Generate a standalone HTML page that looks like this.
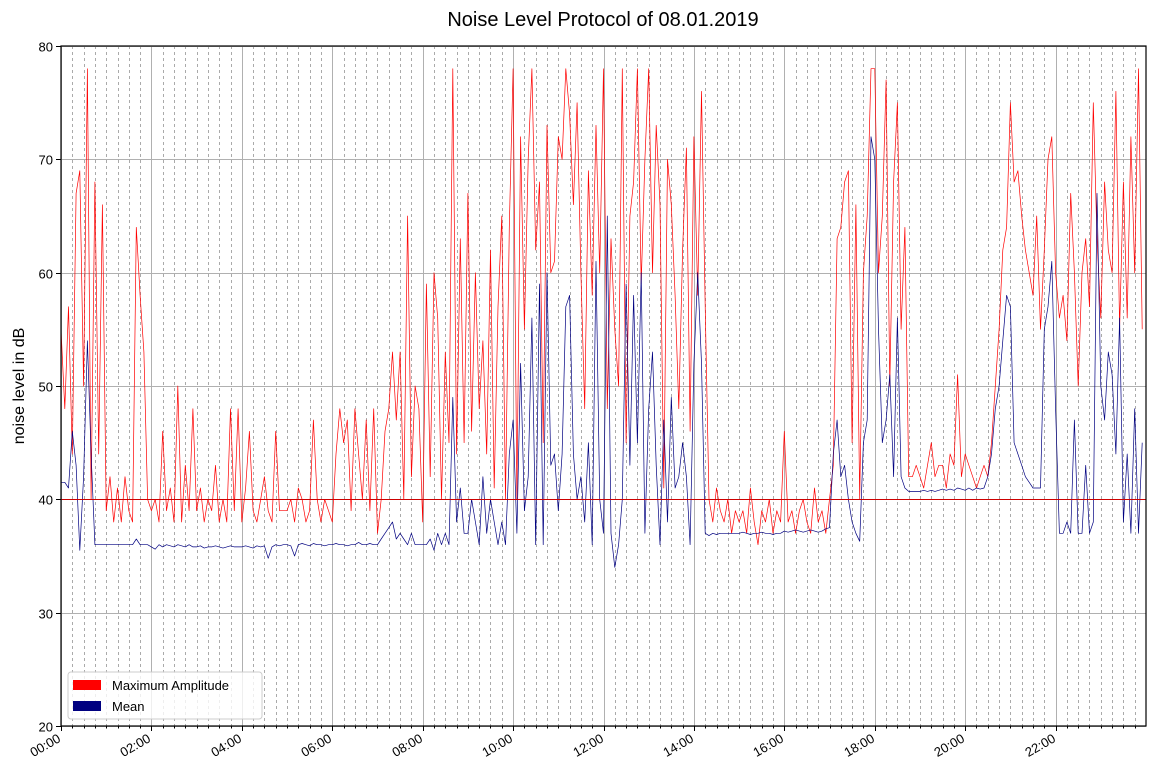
<!DOCTYPE html>
<html><head><meta charset="utf-8"><style>
body{margin:0;background:#fff;font-family:"Liberation Sans",sans-serif;}
svg{display:block}
</style></head><body>
<svg id="chart" width="1159" height="778" xmlns="http://www.w3.org/2000/svg">
<text x="603" y="26" font-size="20" text-anchor="middle" font-family="Liberation Sans, sans-serif">Noise Level Protocol of 08.01.2019</text>
<text transform="translate(24,386) rotate(-90)" font-size="16" text-anchor="middle" font-family="Liberation Sans, sans-serif">noise level in dB</text>
<g id="grid"></g><g id="series"></g><g id="axes"></g>
<g>
<rect x="68" y="672" width="194" height="47" fill="#fff" fill-opacity="0.8" stroke="#ccc" rx="3"/>
<rect x="73" y="680" width="28" height="10" fill="#ff0000"/>
<text x="112" y="690" font-size="13">Maximum Amplitude</text>
<rect x="73" y="701" width="28" height="10" fill="#000080"/>
<text x="112" y="711" font-size="13">Mean</text>
</g>
</svg>
<script>
const yTicks=[20,30,40,50,60,70,80];
const xTickLabels=["00:00","02:00","04:00","06:00","08:00","10:00","12:00","14:00","16:00","18:00","20:00","22:00"];
const threshold=[40];
const maxAmp=[
55,48,57,44,67,69,50,78,40,68,44,66,
39,42,38,41,38,42,39,38,64,58,53,40,
39,40,38,46,39,41,38,50,38,43,39,48,
39,41,38,40,39,43,38,40,38,48,39,48,
38,41,46,39,38,40,42,39,38,46,39,39,
39,40,38,41,40,38,39,47,40,38,40,39,
38,44,48,45,47,39,48,44,40,47,39,48,
37,40,46,48,53,47,53,40,65,42,50,48,
38,59,42,60,56,40,53,45,78,44,63,45,
67,46,60,48,54,44,62,41,57,65,40,64,
78,40,72,55,70,78,62,68,45,73,60,61,
72,70,78,74,66,75,60,48,69,58,73,60,
78,48,63,55,50,78,45,65,68,78,59,70,
78,60,73,66,41,70,66,58,48,62,71,46,
72,58,76,57,40,38,41,39,38,40,37,39,
38,39,37,41,38,36,39,38,40,37,39,38,
46,38,39,37,39,40,38,37,41,38,39,37,
40,43,63,64,68,69,45,66,40,60,65,78,
78,60,65,77,50,68,75,55,64,42,42,43,
42,41,43,45,42,43,43,41,44,43,51,42,
44,43,42,41,42,43,42,45,50,55,62,64,
75,68,69,65,62,60,58,65,55,62,70,72,
60,56,58,54,67,60,50,60,63,57,75,63,
56,68,62,60,76,55,68,56,72,60,78,55];
const meanLvl=[
41.5,41.5,41,46,43,35.5,42,54,44,36,36,36,
36,36,36,36,36,36,36,36,36.5,36,36,36,
35.8,35.6,36,35.8,36,35.9,35.8,36,35.9,35.8,36,35.8,
35.8,35.9,35.7,35.8,35.8,35.9,35.8,35.7,35.8,35.9,35.8,35.8,
35.8,35.9,35.8,35.7,35.9,35.8,35.9,34.8,35.8,36,35.9,36,
36,35.9,35,36,36.1,36,35.9,36.1,36,36,35.9,36,
36,36.1,36,36,35.9,36,36,36.2,36,36,36.1,36,
36,36.5,37,37.5,38,36.5,37,36.5,36,37,36,36,
36,36,36.5,35.5,37,36,37,36,49,38,41,37,
37,40,38,36,42,37,40,38,36,38,36,44,
47,37,52,39,42,56,36,59,36,60,43,44,
39,44,57,58,44,40,42,38,45,36,61,40,
37,65,37,34,36,40,59,43,58,45,60,37,
48,53,43,36,47,38,49,41,42,45,42,36,
52,60,52,37,36.8,37,36.9,37,37,37,37,37,
37,37.1,37,36.9,37,37,37.1,37,37,36.9,37,37,
37.2,37.1,37.2,37.3,37.2,37.1,37.2,37.3,37.2,37.1,37.2,37.4,
37.5,44,47,42,43,40,38,37,36.3,45,47,72,
70,55,45,47,51,42,56,42,41,40.7,40.7,40.7,
40.7,40.8,40.7,40.8,40.7,40.8,40.9,40.8,40.9,40.8,41,40.9,
40.8,41,40.8,41,40.9,41,42,44,48,50,54,58,
57,45,44,43,42,41.5,41,41,41,55,57,61,
48,37,37,38,37,47,37,37,43,37,38,67,
50,47,53,51,44,56,38,44,37,48,37,45];
const X0=61,X1=1146,Y0=726,Y1=46,NS="http://www.w3.org/2000/svg";
const xs=h=>X0+h/24*(X1-X0);
const ys=v=>Y0-(v-20)/60*(Y0-Y1);
const snap=v=>Math.round(v)+0.5;
function mk(tag,attrs,parent){const e=document.createElementNS(NS,tag);for(const k in attrs)e.setAttribute(k,attrs[k]);parent.appendChild(e);return e;}
const grid=document.getElementById('grid'),axes=document.getElementById('axes'),ser=document.getElementById('series');
for(let q=1;q<96;q++){if(q%8===0)continue;const x=snap(xs(q/4));
const l=mk('line',{x1:x,x2:x,y1:Y1,y2:Y0,stroke:'#aaa','stroke-width':1,'stroke-dasharray':'3,3'},grid);


mk('line',{x1:x,x2:x,y1:Y0,y2:Y0+2.5,stroke:'#000'},axes);}
xTickLabels.forEach((t,i)=>{const x=snap(xs(i*2));
const l=mk('line',{x1:x,x2:x,y1:Y1,y2:Y0,stroke:'#b0b0b0','stroke-width':1},grid);


mk('line',{x1:x,x2:x,y1:Y0,y2:Y0+5,stroke:'#000'},axes);
const tx=mk('text',{x:x,y:Y0+15,'font-size':13,'text-anchor':'end',transform:`rotate(-30 ${x} ${Y0+15})`},axes);
tx.textContent=t;

});
yTicks.forEach(v=>{const y=snap(ys(v));
const l=mk('line',{x1:X0,x2:X1,y1:y,y2:y,stroke:'#b0b0b0'},grid);


mk('line',{x1:X0-5,x2:X0,y1:y,y2:y,stroke:'#000'},axes);
const tx=mk('text',{x:X0-8,y:y+5,'font-size':13,'text-anchor':'end'},axes);
tx.textContent=v;

});
function line(arr,color,name){const n=arr.length;const pts=arr.map((v,i)=>xs(i*24/n).toFixed(1)+','+ys(v).toFixed(1)).join(' ');
const p=mk('polyline',{points:pts,fill:'none',stroke:color,'stroke-width':0.7,'stroke-linejoin':'round'},ser);

}
line(maxAmp,'#ff0000','max-amplitude-line');
line(meanLvl,'#000080','mean-line');
const th=mk('line',{x1:X0,x2:X1,y1:snap(ys(threshold[0])),y2:snap(ys(threshold[0])),stroke:'#cc0000','stroke-width':1},ser);


const fr=mk('rect',{x:X0,y:Y1,width:X1-X0,height:Y0-Y1,fill:'none',stroke:'#000','stroke-width':1.2},axes);


</script>
</body></html>
